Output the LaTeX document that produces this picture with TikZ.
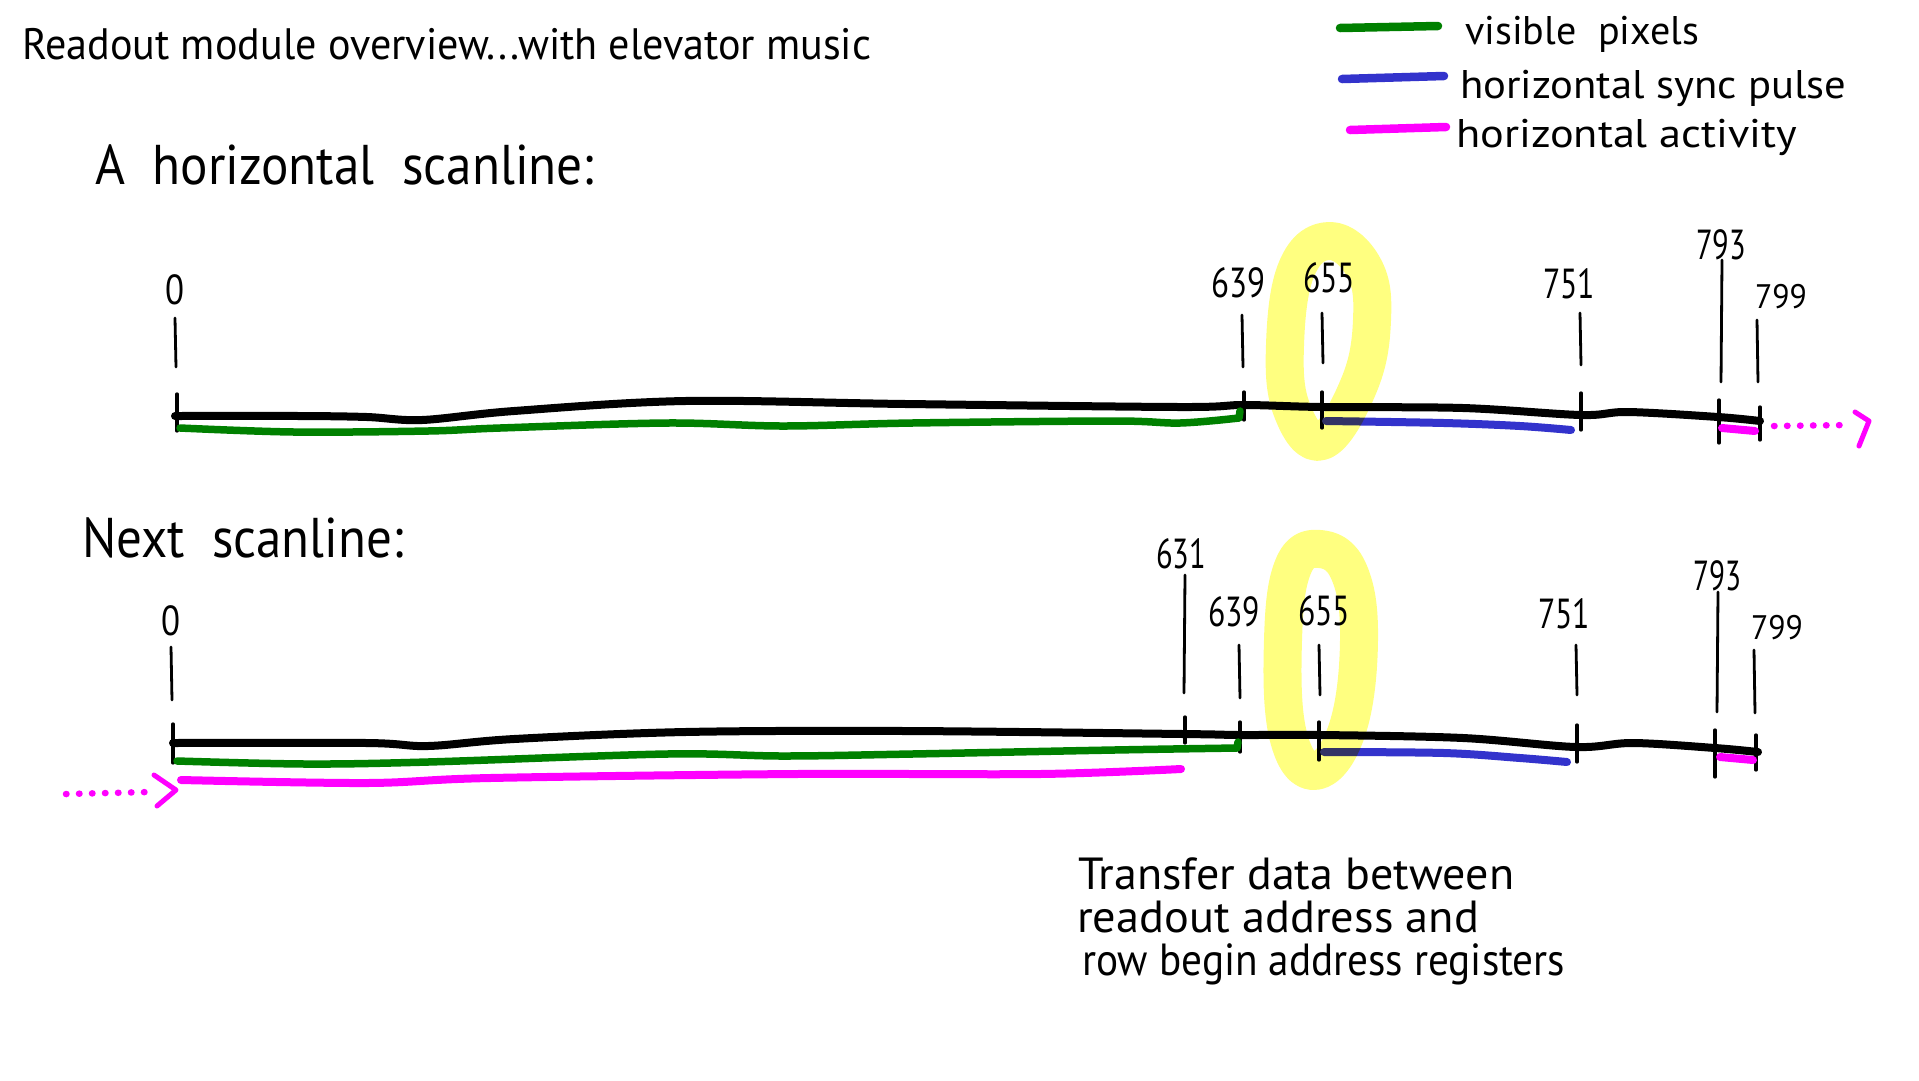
\documentclass[tikz,border=0pt]{standalone}
\usepackage{fontspec}
\setmainfont{PT Sans}
\usepackage{graphicx}
\newcommand\fitw[2]{\resizebox{#1}{\height}{#2}}
\definecolor{visgreen}{RGB}{0,128,0}
\definecolor{syncblue}{RGB}{51,51,204}
\definecolor{actmag}{RGB}{255,0,255}
\definecolor{hlyellow}{RGB}{255,255,128}
\tikzset{
  axisline/.style={black,line width=8pt,line cap=round,line join=round},
  lbltick/.style={black,line width=2.8pt,line cap=round},
  crosstick/.style={black,line width=3.3pt,line cap=round},
  visline/.style={visgreen,line width=7.5pt,line cap=round,line join=round},
  syncline/.style={syncblue,line width=8pt,line cap=round,line join=round},
  actline/.style={actmag,line width=8pt,line cap=round,line join=round},
  dotline/.style={actmag,line width=6.5pt,line cap=round,dash pattern=on 0.5pt off 12.5pt},
  chev/.style={actmag,line width=5pt,line cap=round,line join=round},
  hlloop/.style={hlyellow,line width=38pt,line join=round},
  txt/.style={inner sep=0pt,anchor=base west},
  num/.style={inner sep=0pt,anchor=center,font=\fontsize{42}{46}\selectfont},
  numsmall/.style={inner sep=0pt,anchor=center,font=\fontsize{34}{38}\selectfont},
}
\begin{document}
\begin{tikzpicture}[x=1pt,y=-1pt]
\useasboundingbox[fill=white] (0,0) rectangle (1919,1080);

% titles
\node[txt,font=\fontsize{44}{50}\selectfont] (title) at (22,59) {\fitw{849pt}{Readout module overview...with elevator music}};
\node[txt,font=\fontsize{56}{62}\selectfont] (hscan) at (95,184) {\fitw{499pt}{A\ \ horizontal\ \ scanline:}};
\node[txt,font=\fontsize{56}{62}\selectfont] (nscan) at (82,557) {\fitw{321pt}{Next\ \ scanline:}};

% legend
\draw[visgreen,line width=8.5pt,line cap=round] (1340,28) -- (1438,26);
\draw[syncblue,line width=8.5pt,line cap=round] (1342,79) -- (1444,76);
\draw[actmag,line width=8.5pt,line cap=round] (1350,130) -- (1446,127);
\node[txt,font=\fontsize{40}{46}\selectfont] (lvis) at (1465,44) {\fitw{234pt}{visible\ \ pixels}};
\node[txt,font=\fontsize{40}{46}\selectfont] (lsync) at (1460,98) {\fitw{386pt}{horizontal sync pulse}};
\node[txt,font=\fontsize{40}{46}\selectfont] (lact) at (1456,147) {\fitw{341pt}{horizontal activity}};

% ---------- top scanline ----------
\node[num] (t0) at (175,290) {\fitw{19pt}{0}};
\node[num] (t639) at (1238,283) {\fitw{54pt}{639}};
\node[num] (t655) at (1329,278) {\fitw{52pt}{655}};
\node[num] (t751) at (1569,284) {\fitw{52pt}{751}};
\node[num] (t793) at (1721,245) {\fitw{50pt}{793}};
\node[numsmall] (t799) at (1781,297) {\fitw{52pt}{799}};

\draw[lbltick] (175,318) -- (176,367);
\draw[lbltick] (1242,315) -- (1243,367);
\draw[lbltick] (1322,313) -- (1323,363);
\draw[lbltick] (1580,313) -- (1581,365);
\draw[lbltick] (1722,260) -- (1721,382);
\draw[lbltick] (1757,320) -- (1758,382);

\draw[axisline] plot[smooth,tension=0.55] coordinates {(175,416) (300,416) (367,417) (422,420) (514,411) (685,401) (906,404) (1180,407) (1244,405) (1322,407) (1463,408) (1581,415) (1628,412) (1718,417) (1760,421)};

\draw[crosstick] (177,394) -- (177,431);
\draw[crosstick] (1244,392) -- (1244,420);
\draw[crosstick] (1322,392) -- (1322,428);
\draw[crosstick] (1581,393) -- (1581,430);
\draw[crosstick] (1719,400) -- (1719,443);
\draw[crosstick] (1760,407) -- (1760,440);

\draw[visline] plot[smooth,tension=0.55] coordinates {(180,428) (294,432) (428,431) (500,428) (667,423) (783,426) (912,423) (1114,421) (1180,423) (1239,418)} -- (1240,411);
\draw[syncline] plot[smooth,tension=0.55] coordinates {(1326,421) (1444,423) (1520,426) (1571,430)};
\draw[actline] (1722,428) -- (1755,431);
\draw[dotline] (1774,426) -- (1850,425);
\draw[chev] (1855,412) -- (1869,421) -- (1859,446);

% ---------- bottom scanline ----------
\node[num] (b0) at (171,621) {\fitw{19pt}{0}};
\node[num] (b631) at (1181,554) {\fitw{50pt}{631}};
\node[num] (b639) at (1234,612) {\fitw{52pt}{639}};
\node[num] (b655) at (1324,611) {\fitw{52pt}{655}};
\node[num] (b751) at (1564,614) {\fitw{52pt}{751}};
\node[num] (b793) at (1717,576) {\fitw{48pt}{793}};
\node[numsmall] (b799) at (1777,628) {\fitw{52pt}{799}};

\draw[lbltick] (171,647) -- (172,700);
\draw[lbltick] (1185,575) -- (1184,693);
\draw[lbltick] (1239,645) -- (1240,698);
\draw[lbltick] (1319,645) -- (1320,695);
\draw[lbltick] (1576,645) -- (1577,695);
\draw[lbltick] (1718,592) -- (1717,712);
\draw[lbltick] (1754,650) -- (1755,713);

\draw[axisline] plot[smooth,tension=0.55] coordinates {(173,743) (367,743) (428,746) (514,739) (685,732) (906,731) (1183,734) (1239,735) (1321,735) (1463,738) (1576,747) (1633,743) (1715,748) (1758,752)};

\draw[crosstick] (173,724) -- (173,763);
\draw[crosstick] (1185,717) -- (1185,743);
\draw[crosstick] (1240,722) -- (1240,752);
\draw[crosstick] (1319,722) -- (1319,760);
\draw[crosstick] (1577,725) -- (1577,762);
\draw[crosstick] (1715,730) -- (1715,777);
\draw[crosstick] (1756,735) -- (1756,770);

\draw[visline] plot[smooth,tension=0.55] coordinates {(177,761) (306,764) (428,762) (667,754) (783,756) (912,754) (1114,750) (1237,748)} -- (1238,742);
\draw[actline] plot[smooth,tension=0.55] coordinates {(181,780) (367,783) (490,778) (796,774) (1040,774) (1181,769)};
\draw[syncline] plot[smooth,tension=0.55] coordinates {(1324,752) (1444,753) (1520,758) (1567,762)};
\draw[actline] (1720,757) -- (1753,760);
\draw[dotline] (66,794) -- (150,792);
\draw[chev] (154,775) -- (176,790) -- (157,806);

% annotation
\node[txt,align=left,font=\fontsize{45}{43}\selectfont] (ann) at (1077,975)
  {\hspace*{1pt}\fitw{436pt}{Transfer data between}\\
   \fitw{402pt}{readout address and}\\
   \hspace*{5pt}\fitw{483pt}{row begin address registers}};

% yellow highlight loops
\begin{scope}[blend mode=multiply]
\draw[hlloop] plot[smooth cycle,tension=0.7] coordinates {(1330,241) (1364,268) (1372,320) (1359,385) (1322,441) (1292,410) (1285,345) (1297,268)};
\draw[hlloop] plot[smooth cycle,tension=0.7] coordinates {(1320,549) (1349,572) (1359,640) (1347,730) (1315,771) (1288,735) (1283,640) (1293,567)};
\end{scope}
\end{tikzpicture}
\end{document}
